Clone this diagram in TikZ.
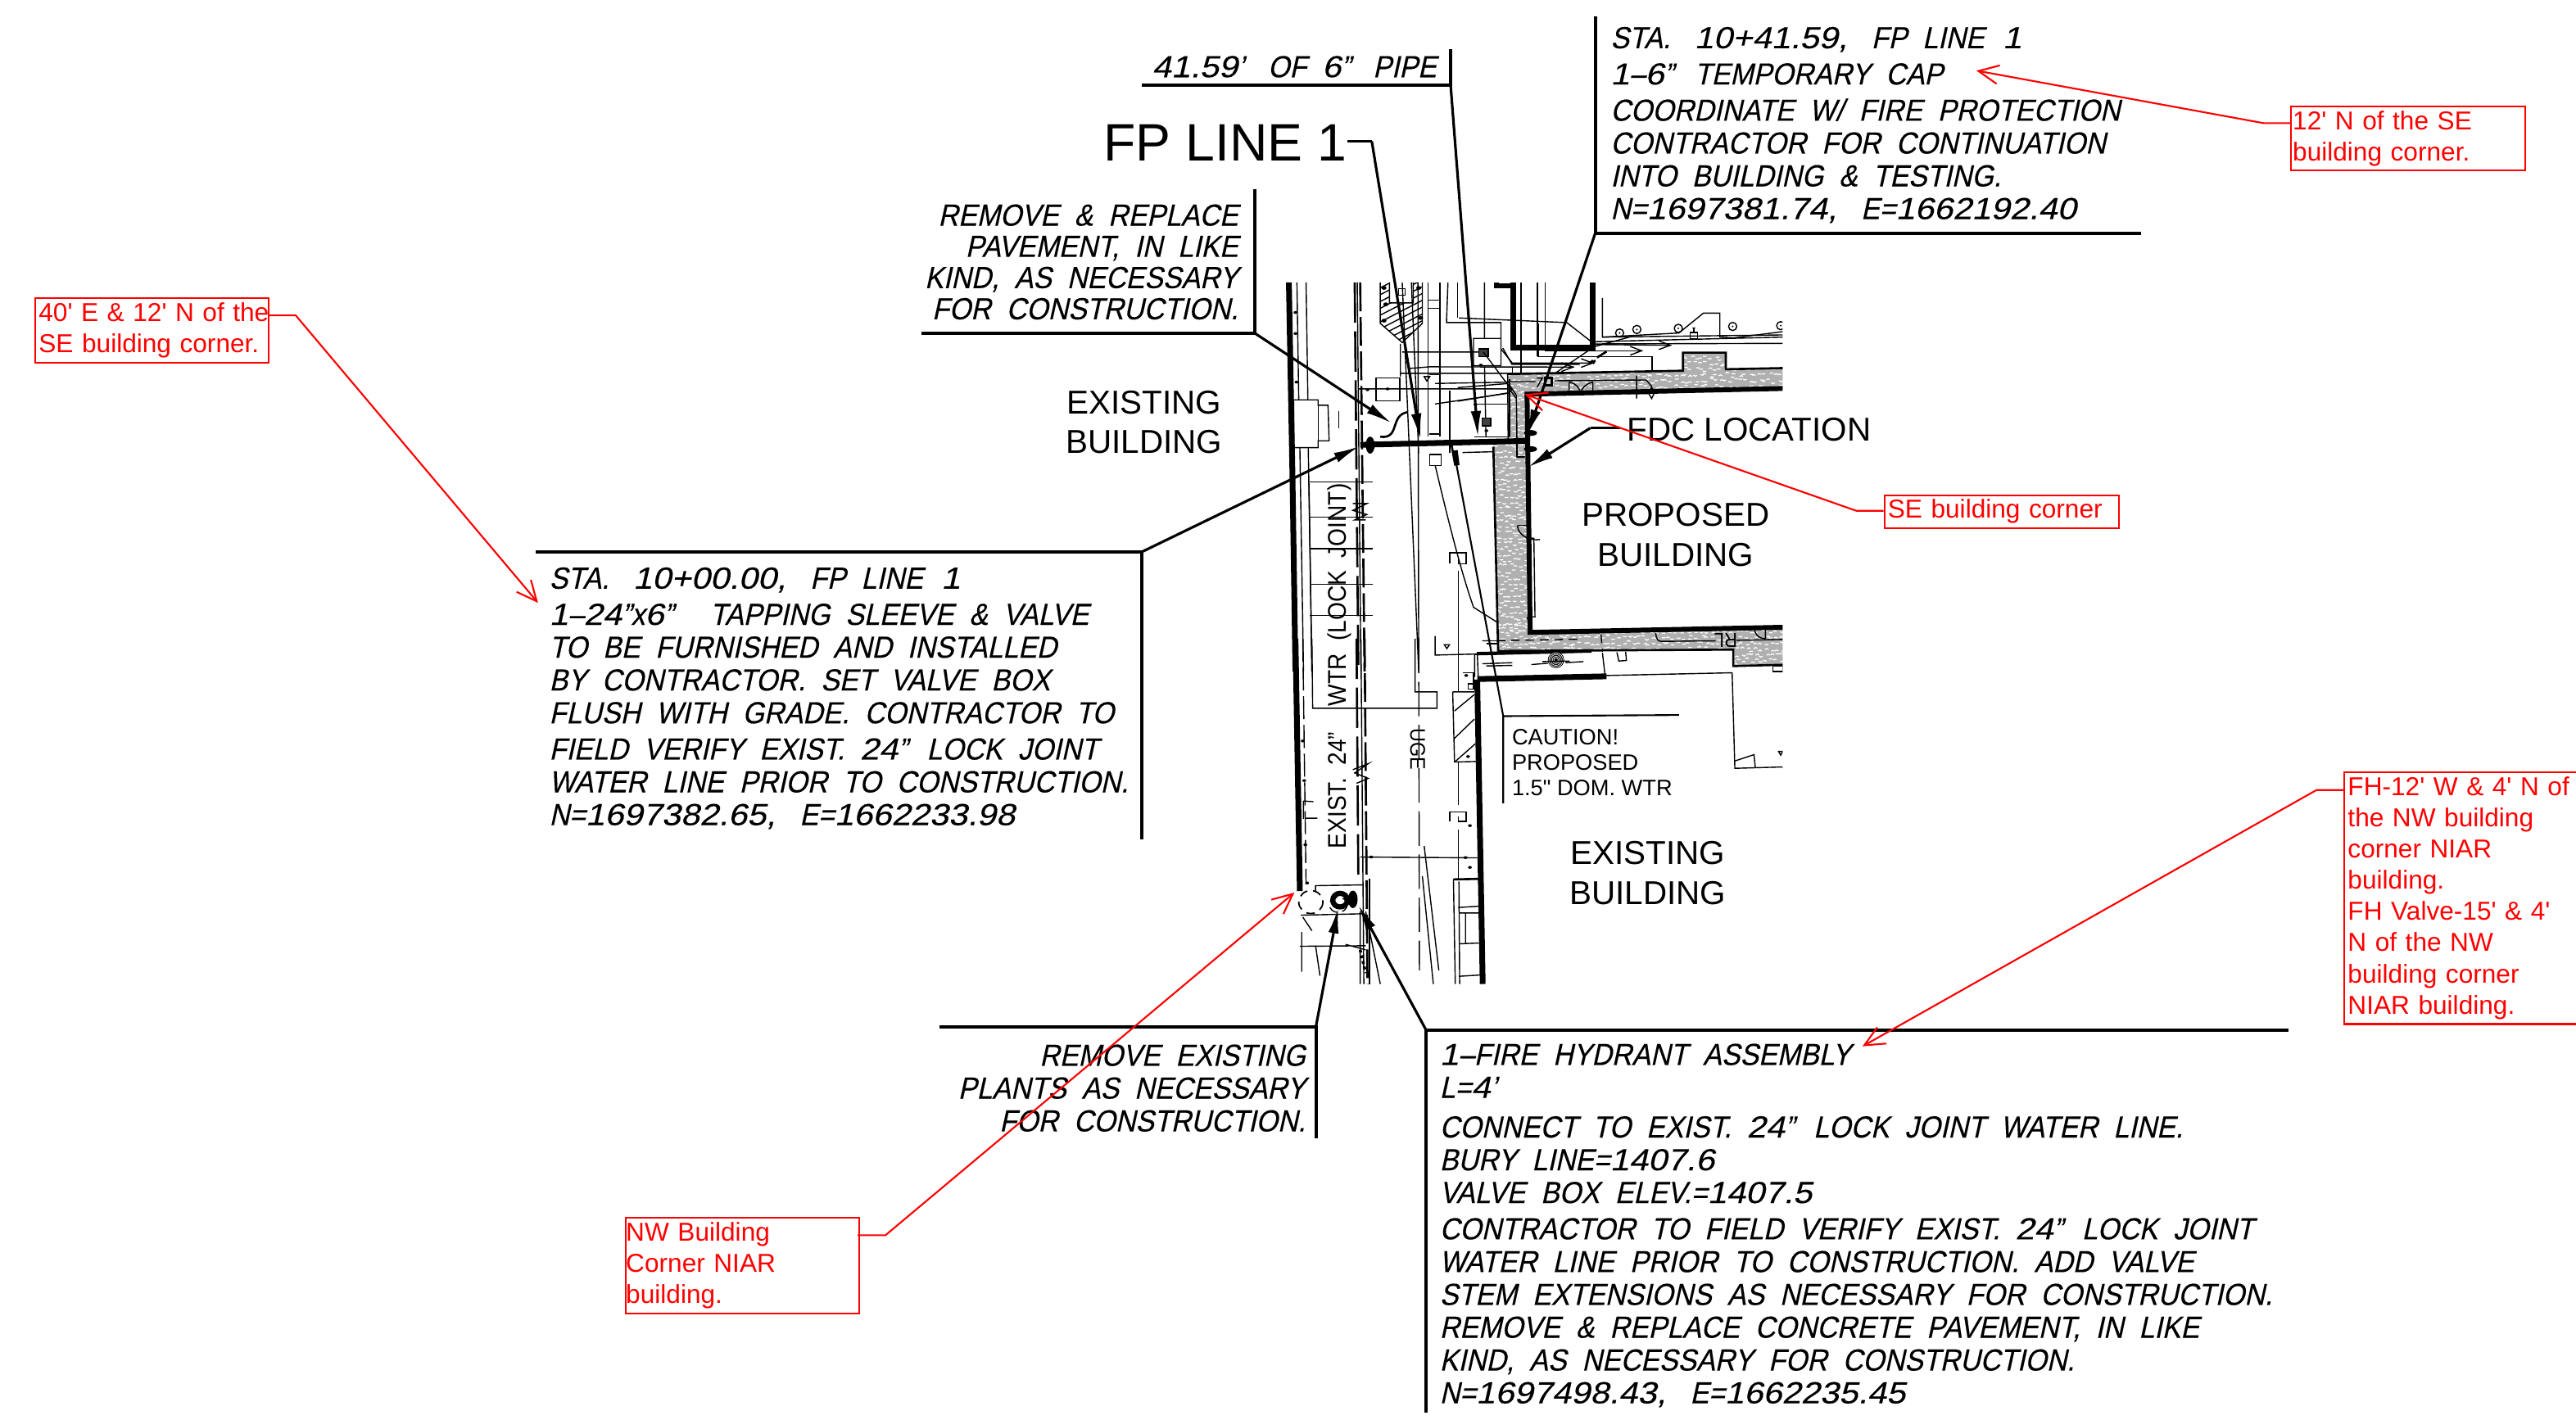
\documentclass[tikz,border=0pt]{standalone}
\usepackage{fontspec}
\usetikzlibrary{arrows.meta,calc}
\newfontfamily\cadfont[FakeStretch=.912,WordSpace=2,FakeSlant=.22,FakeBold=.3]{Liberation Sans}
\newfontfamily\cadnum[FakeStretch=1.12,WordSpace=1,FakeSlant=.22,FakeBold=.3]{Liberation Sans}
\newfontfamily\cadup[FakeStretch=.9,WordSpace=2]{Liberation Sans}
\newfontfamily\lblfont{Liberation Sans}
\newcommand{\fl}{\rule{0pt}{10pt}}
\newcommand{\qq}{”\hspace{1.4pt}}
\newcommand{\dg}[1]{{\cadnum #1}}
\tikzset{
 z1/.style={shift={(747.8,159.5)},xscale=.2226,yscale=.1662},
 z2/.style={shift={(747.8,388.8)},xscale=.2226,yscale=.1662},
 z4/.style={shift={(887.3,169.5)},xscale=.1662,yscale=.1662},
 z5/.style={shift={(887.3,358.9)},xscale=.1662,yscale=.1662},
 thn/.style={line width=.4pt,black},
 mid/.style={line width=.75pt,black},
 thk/.style={line width=1.7pt,black},
 rule/.style={line width=1.1pt,black},
 lead/.style={line width=.9pt,black},
 leadarrow/.style={lead,-{Latex[length=9pt,width=3.6pt]}},
 cadtext/.style={font=\cadfont\fontsize{10.6}{11.4}\selectfont,inner sep=0pt,align=left,anchor=north west},
 cadright/.style={font=\cadfont\fontsize{10.6}{11.4}\selectfont,inner sep=0pt,align=right,anchor=north east},
 bigl/.style={font=\lblfont\fontsize{11.5}{14}\selectfont,inner sep=0pt,align=center},
 redbox/.style={draw=red,line width=.6pt,text=red,inner sep=0pt,font=\lblfont\fontsize{9}{10.85}\selectfont,align=left,anchor=north west},
 redl/.style={draw=red,line width=.6pt,-{Straight Barb[length=7pt,width=6.5pt]}},
}
\begin{document}
\begin{tikzpicture}[x=0.02006cm,y=-0.02006cm]
\useasboundingbox (0,0) rectangle (1568,864.4);
\fill[white] (0,0) rectangle (1568,864.4);
% ---------- plan -------------
\begin{scope}
\clip (780,172) rectangle (1085,600);
\def\wallA{(917.7,227.7) -- (1024.4,225.7) -- (1024.4,214.7) -- (1050.5,214.7) -- (1050.5,224.8) -- (1090,224) -- (1090,236.4) -- (929,239.8) -- (931,272) -- (917.7,272) -- cycle}
\def\wallB{(909,270.5) -- (931,270.5) -- (932,384.7) -- (1090,381.8) -- (1090,404.6) -- (1055,405.5) -- (1055,395.5) -- (911.9,396.3) -- cycle}
\fill[gray!62] \wallA;
\fill[gray!62] \wallB;
\pgfmathsetseed{11}
\begin{scope}
\clip \wallA;
\foreach \xx in {916,919,...,1086} \foreach \yy in {213,216.5,...,242}{
 \pgfmathsetmacro\ax{\xx+2.5*rnd}\pgfmathsetmacro\ay{\yy+2.5*rnd}\pgfmathsetmacro\bb{1.6*rnd-.8}
 \draw[white,line width=.35pt] (\ax,\ay) -- ++(1.2,\bb) -- ++(1,-\bb);
}
\foreach \xx in {916,919,...,934} \foreach \yy in {240,243.5,...,272}{
 \pgfmathsetmacro\ax{\xx+2.5*rnd}\pgfmathsetmacro\ay{\yy+2.5*rnd}\pgfmathsetmacro\bb{1.6*rnd-.8}
 \draw[white,line width=.35pt] (\ax,\ay) -- ++(1.2,\bb) -- ++(1,-\bb);
}
\end{scope}
\begin{scope}
\clip \wallB;
\foreach \xx in {908,911,...,932} \foreach \yy in {270,273.5,...,384}{
 \pgfmathsetmacro\ax{\xx+2.5*rnd}\pgfmathsetmacro\ay{\yy+2.5*rnd}\pgfmathsetmacro\bb{1.6*rnd-.8}
 \draw[white,line width=.35pt] (\ax,\ay) -- ++(1.2,\bb) -- ++(1,-\bb);
}
\foreach \xx in {908,911,...,1088} \foreach \yy in {380,383.5,...,407}{
 \pgfmathsetmacro\ax{\xx+2.5*rnd}\pgfmathsetmacro\ay{\yy+2.5*rnd}\pgfmathsetmacro\bb{1.6*rnd-.8}
 \draw[white,line width=.35pt] (\ax,\ay) -- ++(1.2,\bb) -- ++(1,-\bb);
}
\end{scope}
\draw[mid] (917.7,227.7) -- (1024.4,225.7) -- (1024.4,214.7) -- (1050.5,214.7) -- (1050.5,224.8) -- (1090,224);
\draw[thk] (928,240) -- (1090,236.4);
\draw[thk] (929.5,239.5) -- (931.4,385) -- (1090,381.8);
\draw[thn] (917.7,227.7) -- (918,268);
\draw[mid] (909,272) -- (911.9,396.3) -- (1055,395.5) -- (1055,405.5) -- (1090,404.6);
% zoom 1 details
\begin{scope}[z1]
\draw[thk,line width=2pt] (165,75) -- (175,800) -- (183,1500);
\draw[thn] (187,75) -- (192,505) (212,75) -- (217,505) (195,680) -- (205,1500) (218,680) -- (228,1500);
\draw[thn] (178,505) -- (245,505) -- (245,525) -- (272,525) -- (275,655) -- (245,655) -- (245,680) -- (178,680) -- cycle;
\draw[thn] (245,525) -- (245,655) (302,545) -- (302,610);
\draw[mid,dash pattern=on 14pt off 3pt] (345,75) -- (355,1500);
\draw[thn] (352,75) -- (362,1500);
\draw[mid,dash pattern=on 10pt off 2pt] (360,75) -- (372,1500);
\foreach \yy in {805,935,1050,1180,1295}{\draw[thn] (222,\yy) -- (395,\yy);}
\draw[thn] (220,810) -- (228,1500);
\draw[thn] (340,885) -- (378,885) -- (340,910) -- (378,925) -- (345,945) -- (375,945);
% hatch block
\begin{scope}
\clip (415,75) -- (415,225) -- (475,295) -- (530,225) -- (530,75) -- (505,75) -- (505,150) -- (440,150) -- (440,75) -- cycle;
\foreach \k in {0,25,...,300}{\draw[thn] (400,80+\k) -- (545,-20+\k);}
\end{scope}
\draw[thn] (415,75) -- (415,225) -- (475,295) -- (530,225) -- (530,75) (505,75) -- (505,150) -- (440,150) -- (440,75);
\draw[thn] (465,98) rectangle (483,122);
\fill (425,95) circle[radius=4pt] (430,155) circle[radius=4pt] (425,215) circle[radius=4pt] (520,95) circle[radius=4pt] (525,205) circle[radius=4pt];
\draw[thn] (545,75) -- (545,640) (578,75) -- (578,640) (545,140) -- (578,140) (545,170) -- (578,170) (550,630) -- (580,630);
\draw[thn] (600,75) -- (596,222) -- (745,222) -- (745,280) -- (670,280) -- (670,380) -- (745,380) -- (745,280);
\draw[thn] (626,75) -- (626,205);
\draw[thn] (700,75) -- (700,280) (700,380) -- (704,640);
\draw[thk,line width=1.6pt] (732,75) -- (732,88) -- (778,88);
\draw[thk,line width=2pt] (778,75) -- (778,315) -- (995,315) -- (995,75);
\draw[thn] (800,75) -- (800,405) (845,75) -- (845,345) (866,75) -- (866,320);
\draw[thn] (630,205) -- (925,222) -- (995,295);
\draw[thn] (750,315) -- (775,375) -- (960,375);
\draw[thn] (470,300) -- (470,420) (475,330) -- (697,330) (495,390) -- (550,384) -- (945,385) (470,408) -- (780,408) (355,465) -- (765,465) (565,445) -- (770,440) (565,520) -- (768,480);
\draw[thn] (403,425) rectangle (468,508);
\draw[thn] (550,412) -- (580,412);
\draw[thn] (535,420) -- (550,420) -- (542,436) -- cycle;
\fill (380,468) circle[radius=3pt] (435,465) circle[radius=3pt] (690,378) circle[radius=3pt] (675,522) circle[radius=3pt];
\fill (183,185) circle[radius=3pt] (183,262) circle[radius=3pt] (186,440) circle[radius=3pt];
\draw[thn] (605,470) -- (605,700);
\draw[thn,fill=black!75] (685,318) rectangle (710,346);
\draw[thn] (697,330) -- (775,470);
\draw[thn,fill=black!75] (693,572) rectangle (717,600);
\fill (705,618) circle[radius=3pt];
\draw[thn] (672,520) -- (765,520) (768,640) -- (768,430) (672,640) -- (768,640);
\draw[mid] (415,640) .. controls (470,650) and (440,560) .. (490,550);
\draw[thn] (475,75) -- (520,1500) (500,75) -- (520,700) (518,75) -- (520,1500);
\draw[mid] (610,672) -- (620,745);
\draw[thk] (620,690) -- (625,745);
\draw[thn] (640,698) -- (725,695);
\draw[thn] (550,705) rectangle (582,745);
\draw[thn] (565,745) .. controls (610,1000) and (640,1150) .. (670,1265) -- (735,1320);
\draw[thn] (790,965) arc[start angle=180,end angle=280,x radius=30pt,y radius=30pt];
\draw[thn] (790,965) -- (815,965);
\draw[thn] (820,1010) -- (835,1012) -- (838,1300) -- (825,1300);
\fill (820,1305) circle[radius=3pt] (818,1010) circle[radius=3pt];
\draw[thn] (788,490) -- (788,712) -- (812,712);
\draw[thn] (768,450) -- (788,490);
\draw[thn] (565,1370) -- (565,1440) -- (990,1425);
\draw[thn] (590,1402) -- (604,1402) -- (597,1416) -- cycle;
\draw[thn] (628,1130) -- (628,1500);
\draw[thn] (605,1105) -- (605,1065) -- (650,1065) -- (650,1105) -- (628,1105) -- (628,1085);
\end{scope}
% top right details
\begin{scope}[z4]
\draw[thn] (530,72) -- (530,215) -- (810,200) -- (900,127) -- (960,127) -- (960,215) -- (1010,218) -- (1190,195);
\draw[thn] (530,215) -- (1190,207);
\foreach \cc in {(593,200),(656,187),(808,183),(1007,176),(1183,173)}{\draw[thn] \cc circle[radius=15]; \fill \cc circle[radius=3.5];}
\draw[thn] (495,232) -- (1190,215) (495,240) -- (1190,238);
\draw[thn,-{Straight Barb[length=4pt,width=3pt]}] (495,242) -- (785,245);
\draw[thn,-{Straight Barb[length=4pt,width=3pt]}] (320,265) -- (680,265);
\draw[thn] (295,165) -- (295,287) -- (712,287) -- (712,338);
\draw[thn,-{Straight Barb[length=4pt,width=3pt]}] (200,350) -- (200,325) -- (428,325);
\draw[thn,-{Straight Barb[length=4pt,width=3pt]}] (160,260) -- (200,310) -- (500,310);
\draw[thn] (640,212) -- (500,250) -- (360,345);
\draw[thn] (852,198) rectangle (878,220) (865,180) -- (865,198) (858,182) -- (872,182);
\draw[mid] (480,308) -- (505,302) (490,300) -- (500,312) (510,290) -- (545,268);
\draw[mid,fill=gray!40] (320,365) rectangle (345,392);
\draw[thn] (355,375) -- (690,372) -- (710,395) -- (710,420);
\fill (710,405) circle[radius=6];
\draw[thn] (408,380) -- (408,422) (495,380) -- (495,412) (408,380) .. controls (435,385) and (445,400) .. (450,420) .. controls (455,400) and (470,385) .. (495,380);
\draw[thn] (655,355) -- (655,440) (620,422) -- (700,422) -- (710,440) -- (720,420) -- (700,420);
\draw[thn] (185,378) -- (285,378) (290,365) -- (310,365) -- (290,400);
\draw[thn] (185,400) -- (215,440) -- (218,655) -- (245,655);
\draw[thn] (0,400) -- (185,385) (0,450) -- (180,420);
\end{scope}
% lower wall & existing building
\begin{scope}[z5]
\draw[thn] (725,160) .. controls (728,185) and (735,190) .. (745,190) -- (945,188) (1020,186) -- (1190,183);
\node[font=\cadup\fontsize{7}{7}\selectfont,rotate=180,inner sep=0pt] (rltext) at (982,187) {RL};
\draw[thn] (1085,145) .. controls (1095,175) and (1110,180) .. (1127,180) (1127,140) -- (1127,182);
\draw[thn,densely dashed] (525,165) -- (530,228) (90,188) -- (445,182);
\draw[thn] (60,238) -- (490,228) (62,238) -- (62,320);
\draw[thk,line width=1.2pt] (70,235) -- (490,225);
\draw[thn] (72,240) -- (75,320) (530,232) -- (540,318);
\draw[thk,line width=2pt] (72,328) -- (545,318);
\draw[thn] (545,315) -- (1005,305) -- (1015,655) -- (1190,650) (1015,628) -- (1085,605) -- (1090,652);
\draw[thn] (583,230) -- (590,262) -- (618,260) -- (615,228);
\fill[black] (360,258) circle[radius=30];
\foreach \r in {8,14,20,26}{\draw[white,line width=.2pt] (360,258) circle[radius=\r];}
\draw[thn] (90,272) -- (200,268) (105,280) -- (200,278) (270,275) -- (330,270) (395,268) -- (460,264) (310,264) -- (410,262);
\draw[thn] (1155,280) rectangle (1190,300);
\draw[thn] (1175,593) -- (1190,593) -- (1183,607) -- cycle;
\draw[thn] (90,188) -- (145,188) (105,198) -- (145,198);
\end{scope}
% lower street
\begin{scope}[z2]
\draw[thk,line width=2pt] (183,0) -- (195,925);
\draw[thn] (228,0) -- (230,255) -- (570,255) -- (570,195) -- (510,195) -- (510,0);
\draw[mid,dash pattern=on 14pt off 3pt] (350,0) -- (355,890);
\draw[thn] (362,0) -- (370,1265);
\draw[mid,dash pattern=on 10pt off 2pt] (372,0) -- (380,1265);
\draw[thn] (385,880) -- (385,1265);
\draw[thn] (340,480) -- (382,458) -- (345,492) -- (382,512) -- (350,530);
\draw[thn,dash pattern=on 8pt off 2pt] (203,0) -- (212,900);
\draw[thn,dash pattern=on 12pt off 3pt] (520,0) -- (522,1215);
\draw[thn] (530,870) -- (560,1265) (535,760) -- (575,1215);
\draw[thn] (640,125) -- (670,125) -- (670,185) -- (655,185) -- (655,165) -- (680,165);
\fill (650,135) circle[radius=3pt] (655,432) circle[radius=3pt] (660,685) circle[radius=3pt] (660,838) circle[radius=3pt] (203,375) circle[radius=3pt] (207,520) circle[radius=3pt] (210,755) circle[radius=3pt] (215,895) circle[radius=3pt] (390,800) circle[radius=3pt] (648,802) circle[radius=3pt];
\draw[thn] (613,195) -- (672,195) (613,195) -- (618,452) -- (680,450);
\draw[thn] (618,265) -- (672,205) (618,365) -- (672,295) (620,450) -- (675,385);
\draw[thk,line width=2pt] (680,150) -- (695,1265);
\draw[thn] (628,0) -- (628,195) (628,452) -- (628,610) (628,700) -- (628,880);
\draw[thn] (605,670) -- (605,635) -- (650,635) -- (650,670) -- (628,670) -- (628,650);
\draw[thn] (360,800) -- (680,803);
\draw[mid] (615,882) -- (685,880);
\draw[thn] (615,882) -- (620,1265) (630,890) -- (632,1265);
\draw[thn] (628,985) -- (685,980) (630,1005) -- (685,1005) (648,1005) -- (648,1118) (630,1118) -- (685,1115) (630,1237) -- (690,1232);
\draw[thn] (238,925) -- (238,905) -- (370,902);
\draw[thn,densely dashed,line width=.5pt] (225,965) ellipse[x radius=33,y radius=42];
\draw[thn,densely dashed] (300,975) ellipse[x radius=24,y radius=28];
\draw[line width=1.8pt] (305,958) ellipse[x radius=20,y radius=25];
\fill (340,955) ellipse[x radius=13,y radius=32];
\draw[thn] (197,1013) -- (365,1008) (195,1127) -- (375,1125) (320,1120) -- (375,1140);
\draw[thn] (200,1075) -- (200,1220) (238,1125) -- (250,1235) (203,1020) -- (228,1070);
\draw[thn] (205,595) -- (232,597) (210,658) -- (243,658) (205,595) -- (205,660);
\draw[thn] (360,1000) -- (360,1265) (375,1000) -- (415,1265);
\draw[thn,dash pattern=on 1pt off 1pt,line width=1pt] (360,1140) -- (375,1225);
\end{scope}
% fire line
\draw[line width=2pt] (828,270.8) -- (930,268.4);
\fill (834,271) ellipse[x radius=2.7,y radius=5.2];
\fill (931.6,263.6) ellipse[x radius=4,y radius=1.8];
\fill (931.6,273.4) ellipse[x radius=4,y radius=1.8];
\end{scope}
% rotated labels
\node[font=\cadup\fontsize{8.9}{9}\selectfont,rotate=90,anchor=base,inner sep=0pt] (exlabel) at (819.2,405.5) {EXIST. 24”\ \ WTR (LOCK JOINT)};
\node[font=\cadup\fontsize{7.4}{8}\selectfont,rotate=-90,inner sep=0pt] (uge) at (862.9,456) {UGE};
% black annotation labels
\node[font=\lblfont\fontsize{18.3}{20}\selectfont,inner sep=0pt,anchor=base west] (fpline) at (671.5,98) {FP LINE 1};
\node[bigl] (exb1) at (696.5,257) {EXISTING\\[-.2pt]BUILDING};
\node[bigl] (propb) at (1020,325.5) {PROPOSED\\[-.2pt]BUILDING};
\node[bigl] (exb2) at (1003,531.5) {EXISTING\\[-.2pt]BUILDING};
\node[font=\lblfont\fontsize{11.5}{14}\selectfont,inner sep=0pt,anchor=base west] (fdc) at (990,268.5) {FDC LOCATION};
\node[font=\lblfont\fontsize{7.75}{8.9}\selectfont,inner sep=0pt,align=left,anchor=base west] (caution) at (920,484.5) {CAUTION!\\PROPOSED\\1.5" DOM. WTR};
% CAD text blocks
\node[cadtext,anchor=base west] (pipe) at (701,47) {\dg{41.59}’\hspace{3pt} OF \dg{6}”\hspace{2.5pt} PIPE};
\node[cadright,font=\cadfont\fontsize{10.6}{10.85}\selectfont] (pave) at (754,119.5) {\fl REMOVE \& REPLACE\\PAVEMENT, IN LIKE\\KIND, AS NECESSARY\\FOR CONSTRUCTION.};
\node[cadtext] (cap) at (980,11.5) {\fl STA.\hspace{3pt} \dg{10+41.59,}\hspace{3pt} FP LINE\hspace{1pt} \dg{1}\\[1.2pt]\dg{1}–\dg{6}”\hspace{2pt} TEMPORARY CAP\\[1.2pt]COORDINATE W/ FIRE PROTECTION\\CONTRACTOR FOR CONTINUATION\\INTO BUILDING \& TESTING.\\N=\dg{1697381.74,}\hspace{3pt} E=\dg{1662192.40}};
\node[cadtext] (tap) at (334,340.5) {\fl STA.\hspace{3pt} \dg{10+00.00,}\hspace{3pt} FP LINE\hspace{1pt} \dg{1}\\[1.2pt]\dg{1}–\dg{24}”x\dg{6}\qq{}\hspace{6pt} TAPPING SLEEVE \& VALVE\\TO BE FURNISHED AND INSTALLED\\BY CONTRACTOR. SET VALVE BOX\\FLUSH WITH GRADE. CONTRACTOR TO\\[1.2pt]FIELD VERIFY EXIST. \dg{24}\qq{} LOCK JOINT\\WATER LINE PRIOR TO CONSTRUCTION.\\N=\dg{1697382.65,}\hspace{3pt} E=\dg{1662233.98}};
\node[cadright] (plants) at (795,631) {\fl REMOVE EXISTING\\PLANTS AS NECESSARY\\FOR CONSTRUCTION.};
\node[cadtext] (hyd) at (876,630.5) {\fl \dg{1}–FIRE HYDRANT ASSEMBLY\\L=\dg{4}’\\[2.4pt]CONNECT TO EXIST. \dg{24}\qq{} LOCK JOINT WATER LINE.\\BURY LINE=\dg{1407.6}\\VALVE BOX ELEV.=\dg{1407.5}\\[1.2pt]CONTRACTOR TO FIELD VERIFY EXIST. \dg{24}\qq{} LOCK JOINT\\WATER LINE PRIOR TO CONSTRUCTION. ADD VALVE\\STEM EXTENSIONS AS NECESSARY FOR CONSTRUCTION.\\REMOVE \& REPLACE CONCRETE PAVEMENT, IN LIKE\\KIND, AS NECESSARY FOR CONSTRUCTION.\\N=\dg{1697498.43,}\hspace{3pt} E=\dg{1662235.45}};
% leader coordinates
\coordinate (pA) at (883,52); \coordinate (pB) at (695,52); \coordinate (pC) at (883,30); \coordinate (pT) at (899.6,266);
\coordinate (fA) at (820,86); \coordinate (fB) at (835,86); \coordinate (fT) at (864.6,267.5);
\coordinate (rA) at (764,203); \coordinate (rB) at (561,203); \coordinate (rC) at (764,115); \coordinate (rT) at (847,257.6);
\coordinate (cA) at (971,142); \coordinate (cB) at (1303,142); \coordinate (cC) at (971,10); \coordinate (cT) at (929.7,265);
\coordinate (dA) at (986,260.6); \coordinate (dB) at (968,260.6); \coordinate (dT) at (930,284.5);
\coordinate (tA) at (695,336); \coordinate (tB) at (326,336); \coordinate (tC) at (695,511); \coordinate (tT) at (827.5,271.7);
\coordinate (hA) at (868,627); \coordinate (hB) at (1393,627); \coordinate (hC) at (868,860); \coordinate (hT) at (826.8,551);
\coordinate (lA) at (801,625); \coordinate (lB) at (572,625); \coordinate (lC) at (801,693); \coordinate (lT) at (814.6,552.5);
\coordinate (uA) at (915,436); \coordinate (uB) at (1022,435.3); \coordinate (uC) at (915,489); \coordinate (uT) at (886,280);
\draw[rule] (pB) -- (pA) -- (pC);
\draw[leadarrow] (pA) -- (pT);
\draw[lead] (fA) -- (fB);
\draw[leadarrow] (fB) -- (fT);
\draw[rule] (rC) -- (rA) -- (rB);
\draw[leadarrow] (rA) -- (rT);
\draw[rule] (cC) -- (cA) -- (cB);
\draw[leadarrow] (cA) -- (cT);
\draw[lead] (dA) -- (dB);
\draw[leadarrow] (dB) -- (dT);
\draw[rule] (tB) -- (tA) -- (tC);
\draw[leadarrow] (tA) -- (tT);
\draw[rule] (hC) -- (hA) -- (hB);
\draw[leadarrow] (hA) -- (hT);
\draw[rule] (lB) -- (lA) -- (lC);
\draw[leadarrow] (lA) -- (lT);
\draw[mid,line width=.6pt] (uB) -- (uA) -- (uC);
\draw[mid,line width=.6pt] (uA) -- (uT);
% red callouts
\node[redbox,text width=81pt,minimum height=22.5pt] (r1) at (21,181) {\mbox{\hspace{1.2pt}40' E \& 12' N of the}\\\mbox{\hspace{1.2pt}SE building corner.}};
\node[redbox,text width=81.5pt,minimum height=22.2pt] (r2) at (1394,64.5) {\mbox{\hspace{.6pt}12' N of the SE}\\\mbox{\hspace{.6pt}building corner.}};
\node[redbox,text width=81.5pt,minimum height=11.4pt] (r3) at (1146.5,301) {\mbox{\hspace{1.2pt}SE building corner}};
\node[redbox,text width=81pt,minimum height=33.2pt] (r4) at (380.5,741) {\mbox{NW Building}\\\mbox{Corner NIAR}\\\mbox{building.}};
\node[redbox,text width=82pt,minimum height=87.6pt] (r5) at (1426.5,469.5) {\mbox{\hspace{1.2pt}FH-12' W \& 4' N of}\\\mbox{\hspace{1.2pt}the NW building}\\\mbox{\hspace{1.2pt}corner NIAR}\\\mbox{\hspace{1.2pt}building.}\\\mbox{\hspace{1.2pt}FH Valve-15' \& 4'}\\\mbox{\hspace{1.2pt}N of the NW}\\\mbox{\hspace{1.2pt}building corner}\\\mbox{\hspace{1.2pt}NIAR building.}};
\coordinate (r1a) at (164,192); \coordinate (r1b) at (180,192); \coordinate (r1t) at (327.5,367);
\coordinate (r2a) at (1394,75); \coordinate (r2b) at (1378,75); \coordinate (r2t) at (1203,43);
\coordinate (r3a) at (1146.5,311); \coordinate (r3b) at (1130,311); \coordinate (r3t) at (928,240);
\coordinate (r4a) at (522,752); \coordinate (r4b) at (539,752); \coordinate (r4t) at (787.9,543.4);
\coordinate (r5a) at (1426.5,481); \coordinate (r5b) at (1410,481); \coordinate (r5t) at (1133.7,637);
\draw[redl] (r1a) -- (r1b) -- (r1t);
\draw[redl] (r2a) -- (r2b) -- (r2t);
\draw[redl] (r3a) -- (r3b) -- (r3t);
\draw[redl] (r4a) -- (r4b) -- (r4t);
\draw[redl] (r5a) -- (r5b) -- (r5t);
\end{tikzpicture}
\end{document}
